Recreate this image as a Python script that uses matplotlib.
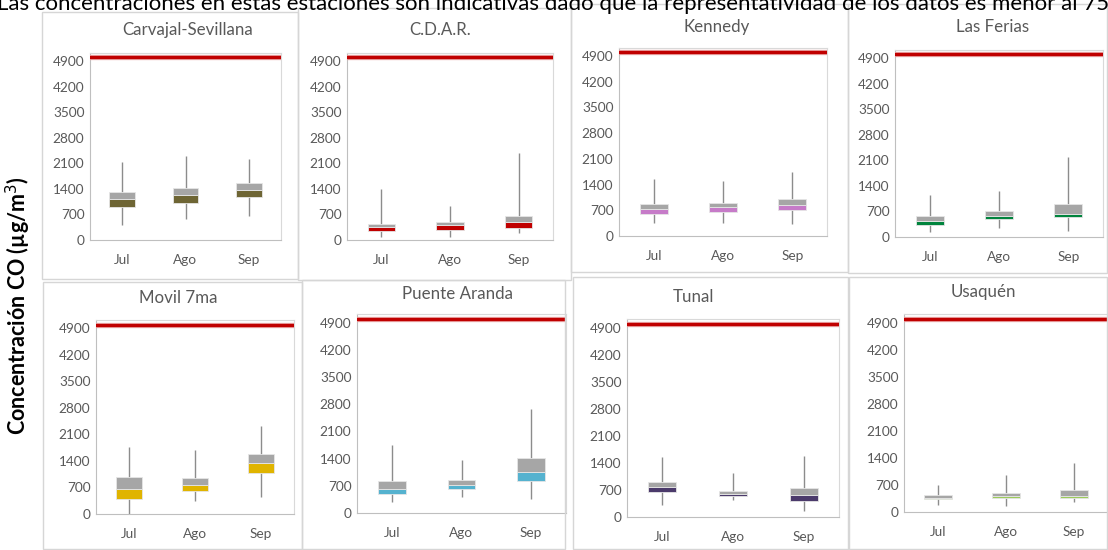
import matplotlib
matplotlib.use("Agg")
import matplotlib.pyplot as plt
from matplotlib.patches import Rectangle

plt.rcParams['font.family'] = ['Lato', 'DejaVu Sans']

W, H = 1108, 550

stations = ["Carvajal-Sevillana", "C.D.A.R.", "Kennedy", "Las Ferias",
            "Movil 7ma", "Puente Aranda", "Tunal", "Usaquén"]
months = ["Jul", "Ago", "Sep"]
box_colors = ["#6E6534", "#C00000", "#C67BC8", "#00843D",
              "#E0B400", "#55B2CF", "#4B3A6B", "#9CCB5C"]

# whisker minimum / Q1 / median / Q3 / whisker maximum (µg/m³)
w_min = [[410, 570, 660], [90, 90, 200], [360, 360, 320], [140, 245, 165],
         [0, 330, 460], [285, 405, 370], [300, 430, 165], [190, 150, 250]]
q1 = [[895, 1005, 1185], [245, 275, 335], [610, 655, 715], [335, 500, 535],
      [390, 610, 1095], [490, 620, 835], [635, 535, 420], [325, 360, 360]]
median = [[1120, 1230, 1370], [345, 400, 490], [725, 780, 845], [445, 565, 635],
          [670, 755, 1350], [630, 715, 1065], [765, 595, 560], [360, 410, 405]]
q3 = [[1325, 1435, 1550], [430, 490, 645], [865, 910, 1000], [575, 725, 890],
      [985, 940, 1575], [815, 850, 1410], [905, 660, 755], [430, 495, 580]]
w_max = [[2145, 2300, 2225], [1385, 930, 2370], [1565, 1500, 1745], [1155, 1265, 2180],
         [1765, 1680, 2330], [1760, 1365, 2665], [1545, 1145, 1575], [700, 960, 1260]]

limit = 5000
yticks = [0, 700, 1400, 2100, 2800, 3500, 4200, 4900]

# plot-area pixel boxes (left, top, right, bottom) and chart frames
plot_px = [(90, 53, 281, 240), (347, 53, 553, 240), (619, 48, 827, 236), (895, 50, 1103, 237),
           (96, 320, 294, 514), (357, 314, 566, 513), (627, 319, 839, 517), (904, 314, 1108, 512)]
frame_px = [(42, 12, 298, 279), (298, 8, 571, 280), (571, 4, 848, 272), (848, 4, 1107, 273),
            (43, 282, 302, 549), (302, 280, 565, 549), (573, 277, 848, 549), (849, 277, 1107, 549)]
title_px = [(188, 30), (440, 30), (717, 27), (993, 27),
            (178, 298), (458, 294), (693, 297), (983, 292)]

fig = plt.figure(figsize=(W / 100, H / 100), dpi=100)

for (l, t, r, b) in frame_px:
    fig.patches.append(Rectangle((l / W, 1 - b / H), (r - l) / W, (b - t) / H,
                                 transform=fig.transFigure, fill=False,
                                 edgecolor="#D6D6D6", linewidth=1.0, zorder=0))

fig.text(-0.003, 1 - 10 / H, "Las concentraciones en estas estaciones son indicativas dado que la "
         "representatividad de los datos es menor al 75%", fontsize=16.0, va="baseline",
         ha="left", color="#000000")

fig.text(18 / W, 1 - 306 / H, "Concentración CO (µg/m$^3$)", rotation=90, fontsize=15.5,
         fontweight="bold", ha="center", va="center")

x = list(range(len(months)))
for i, st in enumerate(stations):
    l, t, r, b = plot_px[i]
    ax = fig.add_axes([l / W, 1 - b / H, (r - l) / W, (b - t) / H])
    ax.set_xlim(-0.5, 2.5)
    ax.set_ylim(0, 5120)
    ax.vlines(x, w_min[i], w_max[i], color="#8C8C8C", linewidth=1.0, zorder=1)
    low_h = [m - a for m, a in zip(median[i], q1[i])]
    up_h = [c - m for c, m in zip(q3[i], median[i])]
    ax.bar(x, low_h, bottom=q1[i], width=0.4, color=box_colors[i],
           edgecolor="#E6E6E6", linewidth=0.6, zorder=2)
    ax.bar(x, up_h, bottom=median[i], width=0.4, color="#A6A6A6",
           edgecolor="#E6E6E6", linewidth=0.6, zorder=2)
    ax.axhline(limit, color="#E9A3A3", linewidth=3.8, zorder=3)
    ax.axhline(limit, color="#C00000", linewidth=2.3, zorder=4)
    ax.set_yticks(yticks)
    ax.set_yticklabels([str(v) for v in yticks])
    ax.set_xticks(x)
    ax.set_xticklabels(months)
    ax.tick_params(axis="y", length=0, pad=4, labelsize=9.8, labelcolor="#595959")
    ax.tick_params(axis="x", length=0, pad=10, labelsize=9.8, labelcolor="#595959")
    for side in ["top", "right"]:
        ax.spines[side].set_color("#D9D9D9")
        ax.spines[side].set_linewidth(0.8)
    for side in ["left", "bottom"]:
        ax.spines[side].set_color("#BFBFBF")
        ax.spines[side].set_linewidth(0.8)
    tx, ty = title_px[i]
    fig.text(tx / W, 1 - ty / H, st, fontsize=12.2, color="#595959",
             ha="center", va="center")

fig.savefig("out.png", dpi=100)
